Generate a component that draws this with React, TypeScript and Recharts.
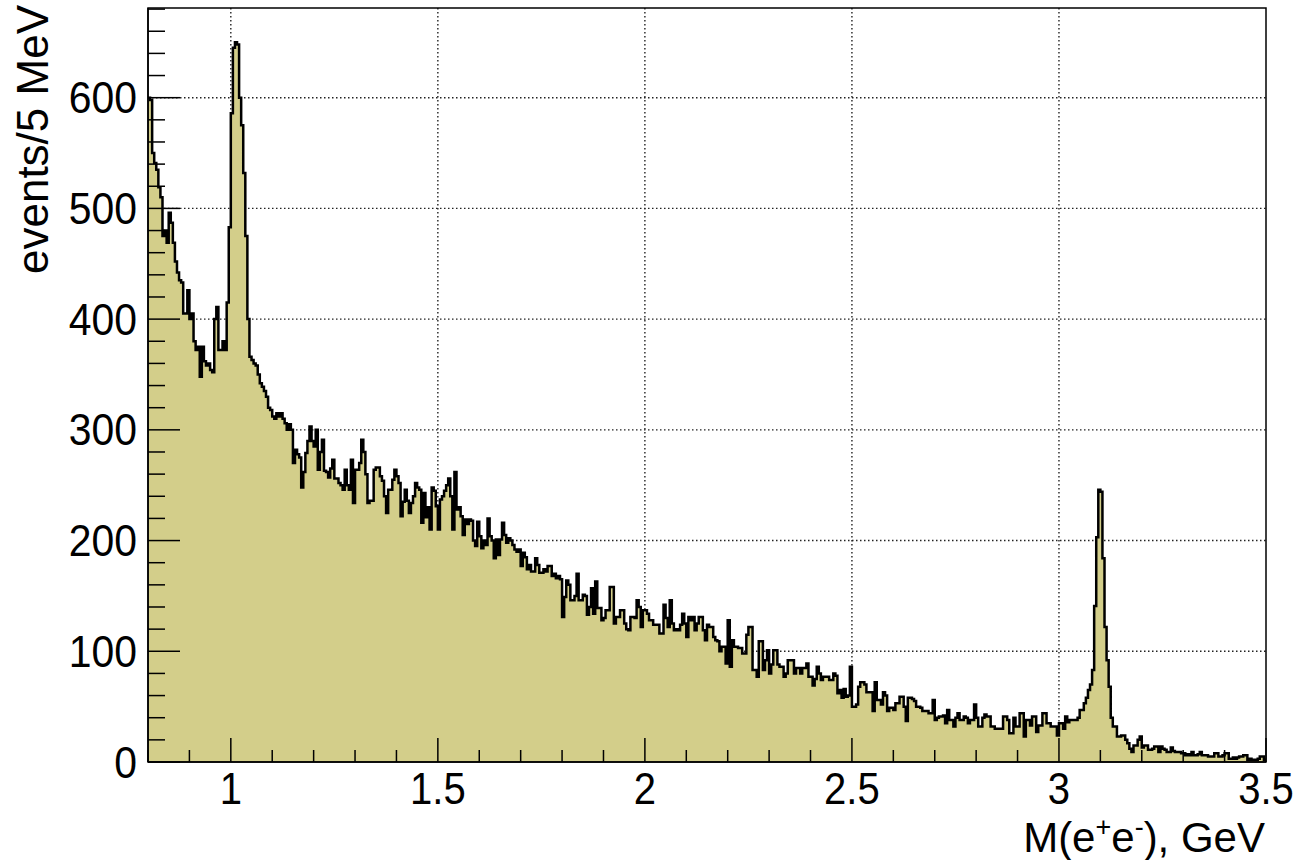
import { ComposedChart, Area, XAxis, YAxis, CartesianGrid, ReferenceArea } from "recharts";

// M(e+e-) histogram, 5 MeV bins from 0.8 to 3.5 GeV (540 bins)
const BIN_LOW = 0.8;
const BIN_WIDTH = 0.005;
const X_MAX = 3.5;

// 0.800 - 1.115
const countsPhi = [
  600, 598, 550, 541, 535, 519, 510, 475, 480, 469,
  496, 487, 469, 452, 442, 435, 433, 405, 405, 426,
  400, 405, 380, 372, 375, 348, 375, 362, 358, 360,
  354, 352, 400, 411, 372, 372, 380, 372, 415, 483,
  586, 645, 650, 648, 600, 575, 532, 475, 400, 366,
  363, 360, 358, 350, 342, 339, 335, 330, 320, 318,
  312, 310, 315, 312,
];
// 1.120 - 1.455
const countsLow = [
  315, 310, 306, 300, 305, 300, 270, 282, 278, 275,
  248, 262, 279, 290, 303, 290, 285, 300, 264, 280,
  291, 263, 262, 257, 265, 273, 256, 256, 252, 250,
  246, 264, 250, 246, 273, 234, 264, 264, 270, 291,
  280, 260, 234, 236, 236, 264, 266, 266, 258, 254,
  240, 225, 246, 246, 255, 264, 258, 252, 222, 235,
  246, 236, 225, 234, 240, 252, 248, 246,
];
// 1.460 - 1.795
const countsMid1 = [
  216, 243, 221, 230, 210, 248, 245, 231, 210, 237,
  240, 245, 250, 256, 240, 210, 262, 228, 230, 222,
  205, 219, 215, 219, 218, 200, 195, 217, 204, 193,
  200, 196, 220, 204, 200, 184, 201, 187, 201, 216,
  205, 198, 202, 200, 196, 192, 190, 192, 177, 189,
  185, 174, 178, 172, 172, 184, 178, 171, 171, 174,
  172, 177, 177, 168, 170, 166, 168, 165,
];
// 1.800 - 2.130
const countsMid2 = [
  131, 149, 164, 160, 146, 146, 150, 170, 146, 146,
  151, 150, 133, 140, 157, 134, 163, 139, 139, 128,
  130, 137, 137, 158, 158, 125, 131, 131, 137, 137,
  125, 120, 119, 131, 131, 130, 146, 140, 122, 137,
  137, 134, 128, 128, 124, 124, 124, 116, 116, 142,
  130, 122, 146, 125, 119, 120, 119, 124, 134, 125,
  113, 131, 128, 131, 119, 125, 131,
];
// 2.135 - 2.470
const countsMid3 = [
  131, 119, 110, 124, 122, 122, 113, 110, 109, 100,
  104, 104, 89, 128, 86, 110, 104, 104, 103, 103,
  98, 98, 115, 122, 122, 83, 83, 77, 109, 109,
  83, 92, 101, 80, 88, 101, 101, 88, 86, 86,
  77, 80, 92, 92, 92, 80, 85, 85, 80, 85,
  85, 89, 77, 77, 69, 75, 86, 80, 74, 77,
  77, 77, 74, 74, 80, 78, 62, 65,
];
// 2.475 - 2.805
const countsHigh = [
  58, 66, 59, 60, 86, 50, 50, 52, 68, 72,
  72, 70, 63, 63, 63, 46, 72, 56, 56, 52,
  63, 60, 46, 49, 49, 47, 53, 53, 59, 59,
  50, 37, 58, 58, 57, 55, 50, 50, 49, 46,
  46, 46, 44, 44, 56, 38, 40, 41, 41, 42,
  35, 47, 38, 38, 32, 40, 44, 38, 38, 41,
  40, 35, 38, 38, 52, 40, 32,
];
// 2.810 - 3.145 (J/psi)
const countsJpsi = [
  32, 40, 43, 41, 41, 32, 32, 30, 30, 30,
  30, 41, 41, 38, 26, 26, 40, 32, 32, 44,
  44, 23, 38, 38, 33, 41, 41, 27, 33, 33,
  44, 44, 35, 35, 32, 32, 32, 24, 35, 35,
  30, 41, 36, 38, 38, 38, 38, 40, 47, 47,
  53, 58, 65, 70, 83, 141, 203, 246, 244, 184,
  122, 92, 68, 40, 32, 32, 23, 23,
];
// 3.150 - 3.495
const countsTail = [
  24, 24, 20, 17, 12, 9, 15, 15, 20, 23,
  13, 15, 15, 11, 11, 12, 14, 14, 9, 14,
  12, 11, 9, 9, 13, 10, 9, 9, 9, 8,
  8, 6, 7, 6, 9, 6, 6, 7, 9, 6,
  6, 6, 5, 5, 5, 8, 8, 5, 5, 6,
  8, 8, 3, 3, 4, 3, 4, 5, 5, 6,
  6, 2, 3, 2, 2, 2, 3, 5, 5, 2,
];

const xTicks = [
  0.8, 0.9, 1, 1.1, 1.2, 1.3, 1.4, 1.5, 1.6, 1.7, 1.8, 1.9, 2, 2.1,
  2.2, 2.3, 2.4, 2.5, 2.6, 2.7, 2.8, 2.9, 3, 3.1, 3.2, 3.3, 3.4, 3.5,
];
const xLabels = [1, 1.5, 2, 2.5, 3, 3.5];
const xGrid = [1, 1.5, 2, 2.5, 3];
const yTicks = [
  0, 20, 40, 60, 80, 100, 120, 140, 160, 180, 200, 220, 240, 260, 280,
  300, 320, 340, 360, 380, 400, 420, 440, 460, 480, 500, 520, 540, 560,
  580, 600, 620, 640, 660, 680,
];
const yLabels = [0, 100, 200, 300, 400, 500, 600];
const yGrid = [100, 200, 300, 400, 500, 600];

const counts = [
  ...countsPhi, ...countsLow, ...countsMid1, ...countsMid2,
  ...countsMid3, ...countsHigh, ...countsJpsi, ...countsTail,
];
const histData = counts.map((n, i) => ({ x: +(BIN_LOW + i * BIN_WIDTH).toFixed(3), n }));
// closing edge so the last step reaches 3.5
histData.push({ x: X_MAX, n: counts[counts.length - 1] });

const FONT = "'Liberation Sans', Arial, sans-serif";
const FILL = "#d3ce8a";

const XTick = (props: any) => {
  const { x, y, payload } = props;
  const v = payload.value;
  const isMajor = xLabels.some((m) => Math.abs(m - v) < 1e-6);
  return (
    <g>
      <line x1={x} x2={x} y1={y} y2={y - (isMajor ? 24 : 12)} stroke="#000" strokeWidth={1.5} />
      {isMajor && (
        <text
          transform={`translate(${x},${y + 42}) scale(0.91,1)`}
          textAnchor="middle"
          fontSize={44}
          fontFamily={FONT}
          fill="#000"
        >
          {String(v)}
        </text>
      )}
    </g>
  );
};

const YTick = (props: any) => {
  const { x, y, payload } = props;
  const v = payload.value;
  const isMajor = yLabels.includes(v);
  return (
    <g>
      <line x1={x} x2={x + (isMajor ? 32 : 17)} y1={y} y2={y} stroke="#000" strokeWidth={1.5} />
      {isMajor && (
        <text
          transform={`translate(${x - 11},${y + 15.5}) scale(0.93,1)`}
          textAnchor="end"
          fontSize={44}
          fontFamily={FONT}
          fill="#000"
        >
          {String(v)}
        </text>
      )}
    </g>
  );
};

export default function App() {
  return (
    <div style={{ position: "absolute", left: 0, top: 0, width: 1300, height: 860, background: "#fff" }}>
      <ComposedChart
        width={1300}
        height={860}
        data={histData}
        margin={{ top: 8, right: 34, bottom: 0, left: 0 }}
      >
        <CartesianGrid
          horizontalValues={yGrid}
          verticalValues={xGrid}
          stroke="#222"
          strokeWidth={1.4}
          strokeDasharray="1.5 2.5"
        />
        <Area
          type="stepAfter"
          dataKey="n"
          stroke="#000"
          strokeWidth={2.5}
          fill={FILL}
          fillOpacity={1}
          baseValue={0}
          dot={false}
          activeDot={false}
          isAnimationActive={false}
        />
        <XAxis
          dataKey="x"
          type="number"
          domain={[BIN_LOW, X_MAX]}
          ticks={xTicks}
          interval={0}
          tickLine={false}
          tickSize={0}
          tickMargin={0}
          tick={<XTick />}
          height={98}
          axisLine={{ stroke: "#000", strokeWidth: 1.5 }}
          allowDataOverflow
        />
        <YAxis
          type="number"
          domain={[0, 681]}
          ticks={yTicks}
          interval={0}
          tickLine={false}
          tickSize={0}
          tickMargin={0}
          tick={<YTick />}
          width={148}
          axisLine={{ stroke: "#000", strokeWidth: 1.5 }}
          allowDataOverflow
        />
        <ReferenceArea
          x1={BIN_LOW}
          x2={X_MAX}
          y1={0}
          y2={681}
          fill="none"
          stroke="#000"
          strokeWidth={1.5}
          ifOverflow="visible"
        />
      </ComposedChart>
      <svg
        width={1300}
        height={860}
        style={{ position: "absolute", left: 0, top: 0, pointerEvents: "none" }}
      >
        <text x={1265} y={852} textAnchor="end" fontSize={42} fontFamily={FONT} fill="#000">
          M(e<tspan dy={-16} fontSize={27}>+</tspan>
          <tspan dy={16}>e</tspan>
          <tspan dy={-16} fontSize={27}>-</tspan>
          <tspan dy={16}>), GeV</tspan>
        </text>
        <text
          transform="translate(48,5) rotate(-90)"
          textAnchor="end"
          fontSize={44}
          fontFamily={FONT}
          fill="#000"
        >
          events/5 MeV
        </text>
      </svg>
    </div>
  );
}
